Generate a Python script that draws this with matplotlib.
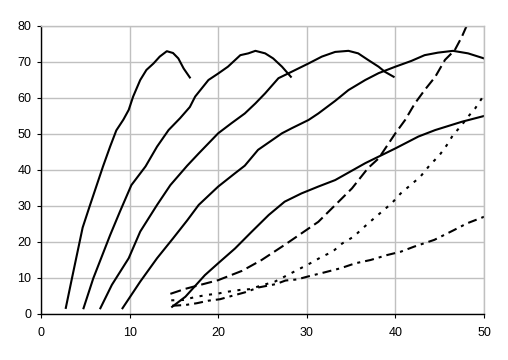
import matplotlib
matplotlib.use("Agg")
import matplotlib.pyplot as plt

plt.rcParams['font.family'] = ['Liberation Sans', 'DejaVu Sans']
plt.rcParams['lines.scale_dashes'] = False

# solid curves that rise and bend over
s1_x = [2.8, 3.5, 4.7, 5.5, 7.0, 7.8, 8.5, 9.3, 9.9, 10.4, 11.2, 11.9, 12.7, 13.4, 14.2, 14.9, 15.5, 16.1, 16.8]
s1_y = [1.7, 10, 24, 30, 41, 46.5, 51, 54, 56.7, 60.4, 65, 67.8, 69.6, 71.5, 73, 72.5, 71, 68.2, 65.7]

s2_x = [4.8, 5.9, 7.8, 8.9, 10.2, 11.8, 13.1, 14.4, 15.7, 16.8, 17.4, 18.9, 20.0, 21.1, 22.5, 23.4, 24.2, 25.3, 26.2, 27.2, 28.2]
s2_y = [1.6, 9.9, 21.9, 28.4, 35.8, 41, 46.5, 51.1, 54.4, 57.5, 60.4, 65, 66.8, 68.7, 71.9, 72.4, 73.1, 72.4, 71, 68.7, 65.9]

s3_x = [6.7, 8.0, 9.9, 11.2, 13.1, 14.6, 16.5, 17.8, 20.0, 21.5, 23.0, 24.2, 25.3, 26.8, 28.3, 30.2, 31.7, 33.2, 34.7, 35.8, 36.9, 38.1, 38.8, 39.8]
s3_y = [1.6, 8.1, 15.5, 22.9, 30.3, 35.8, 41.2, 44.6, 50.2, 53, 55.7, 58.5, 61.3, 65.5, 67.3, 69.6, 71.5, 72.8, 73.1, 72.4, 70.6, 68.7, 67.3, 65.9]

s4_x = [9.2, 11.2, 13.1, 14.9, 16.5, 17.8, 20.0, 21.9, 23.0, 24.5, 27.2, 28.3, 30.2, 31.3, 33.2, 34.7, 36.6, 38.1, 40.0, 41.8, 43.3, 44.8, 46.5, 48.2, 50.0]
s4_y = [1.6, 9, 15.5, 21, 26, 30.3, 35.4, 39.1, 41.2, 45.6, 50.2, 51.6, 53.9, 55.7, 59.2, 62.2, 65, 66.9, 68.7, 70.3, 71.9, 72.6, 73.1, 72.4, 71]

s5_x = [14.8, 16.3, 18.5, 20.0, 21.9, 23.8, 25.7, 27.5, 29.4, 31.3, 33.2, 36.6, 40.0, 42.6, 44.5, 47.5, 50.0]
s5_y = [2, 4.8, 10.8, 14.1, 18.2, 22.9, 27.5, 31.2, 33.5, 35.4, 37.2, 41.9, 46, 49.3, 51.1, 53.4, 55]

# broken-line curves
dash_x = [14.6, 16.3, 20.0, 22.7, 24.9, 27.5, 29.4, 31.3, 33.1, 35.1, 36.9, 38.1, 40.0, 41.1, 42.2, 43.3, 44.5, 45.6, 46.7, 47.5, 48.0, 49.0]
dash_y = [5.6, 7.0, 9.4, 12.0, 15, 19.2, 22.4, 25.6, 30, 34.9, 40.5, 43.2, 50.2, 53.9, 58.5, 62.2, 65.9, 70.6, 73.3, 77, 79.8, 85]

dot_x = [14.7, 16.1, 17.2, 18.7, 19.8, 21.1, 22.5, 23.6, 24.7, 26.4, 28.6, 30.4, 31.7, 32.9, 34.0, 35.3, 36.3, 37.6, 38.7, 39.6, 40.6, 41.7, 42.8, 43.8, 45.0, 45.8, 46.5, 47.5, 48.2, 49.0, 50.0]
dot_y = [3.8, 3.9, 4.6, 5.3, 5.6, 6.2, 6.7, 6.9, 7.8, 9.0, 11.8, 14.1, 15.9, 17.3, 19.6, 21.5, 23.8, 26.6, 28.9, 30.8, 33.5, 35.8, 38.1, 41.1, 44.2, 46.9, 49.7, 52.5, 54.8, 57.1, 60.8]

dd_x = [14.8, 16.3, 17.6, 18.9, 20.2, 21.5, 23.0, 24.6, 26.5, 27.6, 28.9, 30.1, 31.9, 33.8, 35.5, 37.2, 39.1, 40.6, 42.1, 44.4, 46.6, 48.1, 50.0]
dd_y = [2.3, 2.5, 3.0, 3.7, 4.1, 5.0, 6.0, 7.4, 8.3, 9.3, 9.6, 10.4, 11.5, 12.7, 14.1, 15.0, 16.4, 17.3, 18.7, 20.6, 23.3, 25.2, 27]

x_ticks = [0, 10, 20, 30, 40, 50]
y_ticks = [0, 10, 20, 30, 40, 50, 60, 70, 80]

fig = plt.figure(figsize=(5.08, 3.6), dpi=100)
ax = fig.add_axes([41/508, 46/360, 443/508, 288/360])

grid_col = '#c0c0c0'
lw = 1.5
for xs, ys in [(s1_x, s1_y), (s2_x, s2_y), (s3_x, s3_y), (s4_x, s4_y), (s5_x, s5_y)]:
    ax.plot(xs, ys, color='black', lw=lw, solid_joinstyle='round')
ax.plot(dash_x, dash_y, color='black', lw=lw, dashes=(8, 3.6))
ax.plot(dot_x, dot_y, color='black', lw=lw, dashes=(2.2, 4.7))
ax.plot(dd_x, dd_y, color='black', lw=lw, dashes=(6.5, 3.6, 2.2, 3.6))

ax.set_xlim(0, 50)
ax.set_ylim(0, 80)
ax.set_xticks(x_ticks)
ax.set_yticks(y_ticks)
ax.grid(True, color=grid_col, lw=1)
ax.set_axisbelow(True)

for side in ['top', 'right']:
    ax.spines[side].set_color(grid_col)
    ax.spines[side].set_linewidth(1)
for side in ['left', 'bottom']:
    ax.spines[side].set_color('black')
    ax.spines[side].set_linewidth(1)

ax.tick_params(axis='both', direction='out', length=3, width=0.8, labelsize=9, colors='black')
ax.tick_params(axis='y', pad=4)
ax.tick_params(axis='x', pad=6)

fig.savefig('out.png', dpi=100)
